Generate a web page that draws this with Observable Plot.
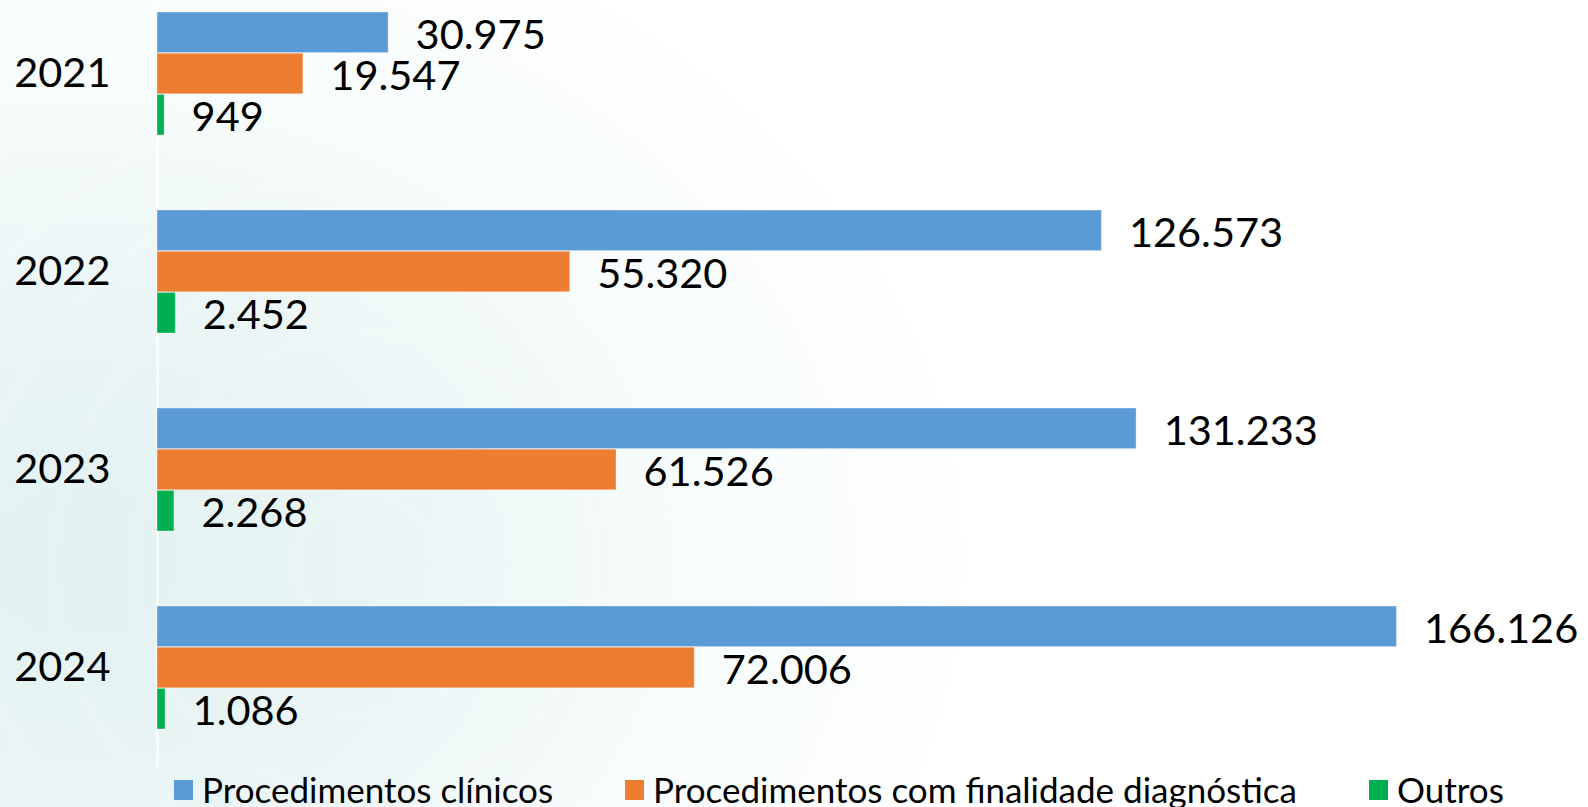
<!DOCTYPE html>
<html>
<head>
<meta charset="utf-8">
<script src="https://cdn.jsdelivr.net/npm/d3@7"></script>
<script src="https://cdn.jsdelivr.net/npm/@observablehq/plot@0.6"></script>
<style>
  html, body { margin: 0; padding: 0; width: 1588px; height: 807px; overflow: hidden; }
  body {
    font-family: Lato, "Noto Sans", sans-serif;
    background:
      repeating-radial-gradient(circle at 365px 565px, rgba(255,255,255,0) 0px, rgba(255,255,255,0) 60px, rgba(255,255,255,0.12) 70px, rgba(255,255,255,0) 80px),
      radial-gradient(ellipse 900px 700px at 80px 560px, #e2f1f1 0%, #eaf5f5 35%, #f6fbfb 65%, #ffffff 100%);
    background-color: #ffffff;
  }
  #chart svg { display: block; }
  #legend { position: relative; height: 39px; width: 1588px; font-size: 35px; color: #000; }
  #legend .item { position: absolute; top: 0; height: 39px; }
  #legend .sw { position: absolute; top: 12px; left: 0; width: 19px; height: 20px; }
  #legend .lb { position: absolute; left: 28px; top: 4px; white-space: nowrap; line-height: 34px; }
</style>
</head>
<body>
<div id="chart"></div>
<div id="legend"></div>
<script>
const years = ["2021", "2022", "2023", "2024"];
const series = ["Procedimentos clínicos", "Procedimentos com finalidade diagnóstica", "Outros"];
const clinicos = [30975, 126573, 131233, 166126];
const diagnostica = [19547, 55320, 61526, 72006];
const outros = [949, 2452, 2268, 1086];
const colors = ["#5B9BD5", "#ED7D31", "#00B050"];

const values = [clinicos, diagnostica, outros];
const rows = [];
series.forEach((s, i) => years.forEach((y, j) => rows.push({series: s, si: i, year: y, value: values[i][j]})));

const fmt = d3.formatLocale({decimal: ",", thousands: ".", grouping: [3], currency: ["R$", ""]}).format(",d");

const W = 1588, H = 768;
const mTop = 0, mBottom = 1;
const pi = 0.378, po = 0.119, al = 0.235;
const step = (H - mTop - mBottom) / (years.length - pi + 2 * po);
const bw = step * (1 - pi);
const barH = bw / 3;

const marks = [Plot.ruleX([0], {stroke: "#ffffff", strokeWidth: 2})];
series.forEach((s, i) => {
  const d = rows.filter(r => r.si === i);
  marks.push(Plot.barX(d, {
    x: "value", y: "year", fill: colors[i],
    insetTop: i * barH, insetBottom: (2 - i) * barH,
    stroke: "#ffffff", strokeOpacity: 0.35, strokeWidth: 1
  }));
  marks.push(Plot.text(d, {
    x: "value", y: "year", text: r => fmt(r.value),
    dx: 27, dy: (i - 1) * barH + 3, textAnchor: "start",
    fill: "#000", fontSize: 41.5
  }));
});

const chart = Plot.plot({
  width: W, height: H,
  marginLeft: 157, marginRight: 88, marginTop: mTop, marginBottom: mBottom,
  x: {domain: [0, 180000], axis: null},
  y: {domain: years, paddingInner: pi, paddingOuter: po, align: al, tickSize: 0, tickPadding: 47, label: null},
  style: {fontFamily: "Lato, 'Noto Sans', sans-serif", fontSize: "41.5px", color: "#000", background: "transparent", overflow: "visible"},
  marks
});
document.getElementById("chart").appendChild(chart);

const legendX = [174, 625, 1369];
const legend = document.getElementById("legend");
series.forEach((s, i) => {
  const item = document.createElement("div");
  item.className = "item";
  item.style.left = legendX[i] + "px";
  const sw = document.createElement("span");
  sw.className = "sw"; sw.style.background = colors[i];
  const lb = document.createElement("span");
  lb.className = "lb"; lb.textContent = s;
  item.appendChild(sw); item.appendChild(lb);
  legend.appendChild(item);
});
</script>
</body>
</html>
